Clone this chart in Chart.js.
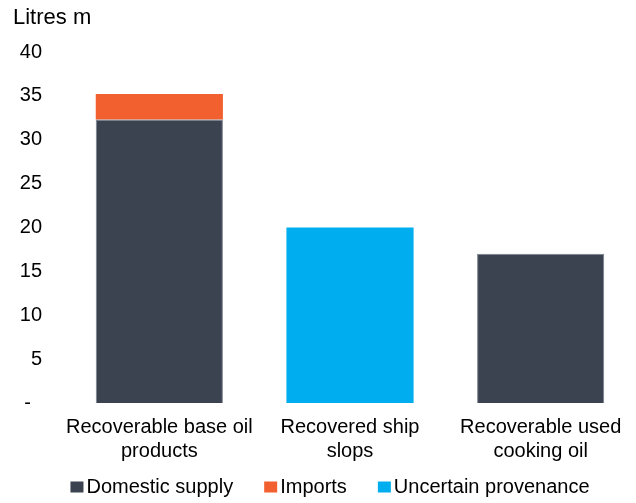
<!DOCTYPE html>
<html>
<head>
<meta charset="utf-8">
<script src="https://cdn.jsdelivr.net/npm/chart.js@4"></script>
<style>
  html, body { margin: 0; padding: 0; background: #fff; }
  #wrap { width: 636px; height: 503px; position: relative; }
</style>
</head>
<body>
<div id="wrap"><canvas id="chart"></canvas></div>
<script>
const categories = [
  ['Recoverable base oil', 'products'],
  ['Recovered ship', 'slops'],
  ['Recoverable used', 'cooking oil'],
];
const domesticSupply = [32.3, null, 17];
const imports = [2.9, null, null];
const uncertainProvenance = [null, 20, null];
const yTicks = [0, 5, 10, 15, 20, 25, 30, 35, 40];

const FONT = "'Liberation Sans', Arial, sans-serif";

// unit caption in the top-left corner
const unitLabel = {
  id: 'unitLabel',
  afterDraw(chart) {
    const ctx = chart.ctx;
    ctx.save();
    ctx.font = `22px ${FONT}`;
    ctx.fillStyle = '#000';
    ctx.textBaseline = 'middle';
    ctx.textAlign = 'left';
    ctx.fillText('Litres m', 13, 18);
    ctx.restore();
  }
};

// compact legend row under the axis: square swatch, small gap, label
const bottomLegend = {
  id: 'bottomLegend',
  afterDraw(chart) {
    const ctx = chart.ctx;
    const box = { w: 13, h: 11, gap: 3 };
    const spacing = 31;
    const y = 487.5;
    ctx.save();
    ctx.font = `20px ${FONT}`;
    ctx.textBaseline = 'middle';
    ctx.textAlign = 'left';
    const items = chart.data.datasets.map(ds => ({
      text: ds.label,
      color: ds.backgroundColor,
      width: box.w + box.gap + ctx.measureText(ds.label).width,
    }));
    const total = items.reduce((s, it) => s + it.width, 0) + spacing * (items.length - 1);
    let x = (chart.chartArea.left + chart.chartArea.right) / 2 - total / 2 - 20;
    items.forEach(it => {
      ctx.fillStyle = it.color;
      ctx.fillRect(x, y - box.h / 2 - 0.5, box.w, box.h);
      ctx.fillStyle = '#000';
      ctx.fillText(it.text, x + box.w + box.gap, y);
      x += it.width + spacing;
    });
    ctx.restore();
  }
};

new Chart(document.getElementById('chart'), {
  type: 'bar',
  data: {
    labels: categories,
    datasets: [
      {
        label: 'Domestic supply',
        data: domesticSupply,
        backgroundColor: '#3b4250',
        borderColor: '#7b828d',
        borderWidth: { left: 1, right: 1, top: 1, bottom: 0 },
        borderSkipped: false,
      },
      {
        label: 'Imports',
        data: imports,
        backgroundColor: '#f26030',
        borderWidth: 0,
      },
      {
        label: 'Uncertain provenance',
        data: uncertainProvenance,
        backgroundColor: '#00aeef',
        borderWidth: 0,
      },
    ],
  },
  options: {
    responsive: true,
    maintainAspectRatio: false,
    animation: false,
    layout: { padding: { top: 52, left: 0, right: 0, bottom: 0 } },
    datasets: {
      bar: { barPercentage: 0.667, categoryPercentage: 1 },
    },
    plugins: {
      title: { display: false },
      tooltip: { enabled: false },
      legend: { display: false },
    },
    scales: {
      x: {
        stacked: true,
        grid: { display: false, drawTicks: false },
        border: { display: false },
        ticks: {
          color: '#000',
          font: { family: FONT, size: 20, lineHeight: 1.2 },
          padding: 12,
          maxRotation: 0,
        },
        afterFit: (scale) => { scale.height = 100; },
      },
      y: {
        stacked: true,
        min: 0,
        max: 40,
        afterBuildTicks: (scale) => { scale.ticks = yTicks.map(v => ({ value: v })); },
        grid: { display: false, drawTicks: false },
        border: { display: false },
        ticks: {
          color: '#000',
          font: { family: FONT, size: 20 },
          padding: 22,
          callback: (v) => v === 0 ? '-  ' : v,
        },
        afterFit: (scale) => { scale.width = 64; },
      },
    },
  },
  plugins: [unitLabel, bottomLegend],
});
</script>
</body>
</html>
